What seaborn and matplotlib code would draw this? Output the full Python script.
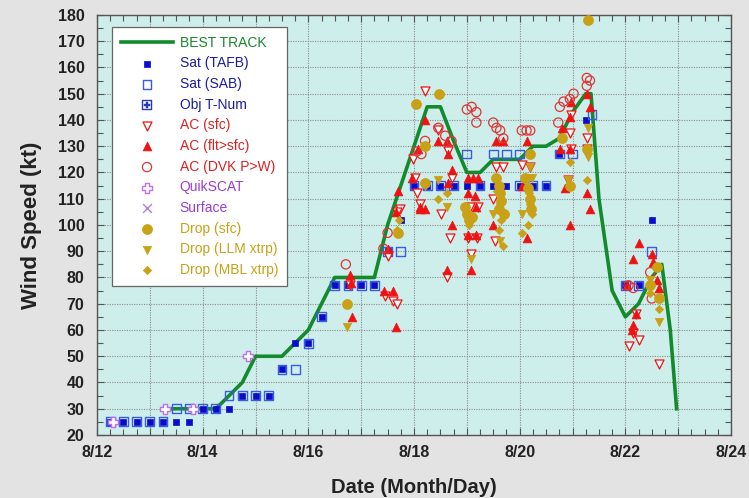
import matplotlib
matplotlib.use("Agg")
import matplotlib.pyplot as plt
from matplotlib.ticker import MultipleLocator, FuncFormatter
import seaborn as sns
import pandas as pd

# Best track intensity (day of August, knots)
bt_day = [13.25, 13.5, 13.75, 14.0, 14.25, 14.5, 14.75, 15.0, 15.25, 15.5, 15.75,
          16.0, 16.25, 16.5, 16.75, 17.0, 17.25, 17.5, 17.75, 18.0, 18.25, 18.5,
          18.75, 19.0, 19.25, 19.5, 19.75, 20.0, 20.25, 20.5, 20.75, 21.0, 21.25,
          21.35, 21.5, 21.75, 22.0, 22.25, 22.5, 22.69, 22.85, 22.97]
bt_kt = [30, 30, 30, 30, 30, 35, 40, 50, 50, 50, 55,
         60, 70, 80, 80, 80, 80, 100, 115, 130, 145, 145,
         132, 120, 120, 125, 125, 125, 130, 130, 133, 143, 150,
         150, 110, 75, 65, 70, 80, 85, 60, 30]

# Satellite Dvorak estimates
tafb_day = [12.25, 12.5, 12.75, 13.0, 13.25, 13.5, 13.75, 14.0, 14.25, 14.5,
            14.75, 15.0, 15.25, 15.5, 15.75, 16.0, 16.25, 16.5, 16.75, 17.0, 17.25,
            17.5, 17.75, 18.0, 18.25, 18.5, 18.75, 19.0, 19.25, 19.5, 19.75, 20.0,
            20.25, 20.5, 20.75, 21.25, 22.0, 22.25, 22.5]
tafb_kt = [25, 25, 25, 25, 25, 25, 25, 30, 30, 30,
           35, 35, 35, 45, 55, 55, 65, 77, 77, 77, 77,
           90, 102, 115, 115, 115, 115, 115, 115, 115, 115, 115,
           115, 115, 127, 140, 77, 77, 102]

sab_day = [12.25, 12.5, 12.75, 13.0, 13.25, 13.5, 13.75, 14.0, 14.25, 14.5,
           14.75, 15.0, 15.25, 15.5, 15.75, 16.0, 16.25, 16.5, 16.75, 17.0, 17.25,
           17.5, 17.75, 18.0, 18.25, 18.5, 18.75, 19.25, 20.0, 20.25, 20.5,
           19.0, 19.5, 19.75, 20.0, 20.75, 21.0, 21.37, 22.0, 22.25, 22.5]
sab_kt = [25, 25, 25, 25, 25, 30, 30, 30, 30, 35,
          35, 35, 35, 45, 45, 55, 65, 77, 77, 77, 77,
          90, 90, 115, 115, 115, 115, 115, 115, 115, 115,
          127, 127, 127, 127, 127, 127, 142, 77, 77, 90]

objt_day = []
objt_kt = []

# Aircraft observations
acsfc_day = [16.79, 17.45, 17.6, 17.67, 17.51, 17.74, 17.67, 17.99, 18.02, 18.05,
             18.11, 18.2, 18.46, 18.52, 18.62, 18.65, 18.69, 18.71, 19.03, 19.06,
             19.08, 19.19, 19.22, 19.5, 19.53, 19.56, 19.69, 20.04, 20.2, 20.92,
             20.95, 20.98, 20.98, 21.27, 21.27, 22.06, 22.15, 22.21, 22.25, 22.63]
acsfc_kt = [77, 73, 71, 70, 88, 106, 105, 125, 118, 112,
            108, 151, 136, 104, 80, 128, 95, 118, 95, 107,
            89, 95, 107, 110, 94, 122, 122, 123, 122, 117,
            135, 142, 129, 133, 129, 54, 59, 66, 56, 47]

acflt_day = [16.78, 16.8, 16.82, 17.43, 17.6, 17.66, 17.51, 17.66, 17.7, 17.96,
             18.08, 18.11, 18.11, 18.2, 18.21, 18.46, 18.62, 18.62, 18.65, 18.65,
             18.71, 18.71, 19.03, 19.12, 19.22, 19.03, 19.15, 19.18, 19.03, 19.18,
             19.07, 19.5, 19.56, 19.69, 20.04, 20.13, 20.13, 20.76, 20.8, 20.86,
             20.95, 20.95, 20.95, 20.98, 21.27, 21.27, 21.33, 21.33, 22.03, 22.13,
             22.15, 22.15, 22.21, 22.25, 22.5, 22.53, 22.6, 22.63]
acflt_kt = [81, 78, 65, 75, 75, 61, 91, 105, 113, 118,
            129, 107, 106, 140, 106, 132, 132, 83, 127, 116,
            121, 100, 118, 118, 118, 112, 111, 107, 96, 96,
            83, 100, 132, 132, 115, 132, 95, 129, 137, 114,
            141, 129, 100, 147, 150, 112, 145, 106, 77, 60,
            62, 87, 66, 93, 89, 86, 79, 76]

dvk_day = [16.71, 17.42, 17.5, 18.05, 18.14, 18.21, 18.46, 18.59, 18.71, 19.0,
           19.09, 19.18, 19.18, 19.5, 19.56, 19.63, 19.69, 20.04, 20.13, 20.2,
           20.73, 20.76, 20.83, 20.95, 21.02, 21.27, 21.27, 21.33, 22.06, 22.15,
           22.47, 22.5]
dvk_kt = [85, 91, 97, 128, 127, 132, 137, 134, 132, 144,
          145, 143, 139, 139, 137, 136, 133, 136, 136, 136,
          139, 145, 147, 148, 150, 156, 153, 155, 77, 76,
          82, 72]

# Scatterometer and surface reports
qs_day = [12.3, 13.29, 13.82, 14.86]
qs_kt = [25, 30, 30, 50]

sfc_day = []
sfc_kt = []

# Dropsonde estimates
dsfc_day = [16.73, 17.7, 18.04, 18.21, 18.21, 18.48, 18.97, 19.0, 19.05, 19.1,
            19.55, 19.6, 19.62, 19.65, 19.6, 19.7, 20.1, 20.15, 20.2, 20.2,
            20.22, 20.8, 20.95, 21.27, 21.3, 22.47, 22.6, 22.63]
dsfc_kt = [70, 97, 146, 130, 116, 150, 107, 104, 102, 103,
           118, 115, 112, 109, 106, 104, 118, 114, 127, 110,
           106, 133, 115, 129, 178, 77, 84, 72]

llm_day = [16.73, 18.21, 18.46, 18.62, 19.08, 19.5, 19.63, 20.04, 20.2, 20.23,
           20.92, 21.3, 21.3, 22.47, 22.63]
llm_kt = [61, 115, 117, 107, 87, 104, 94, 104, 122, 118,
          117, 137, 126, 79, 63]

mbl_day = [17.68, 17.72, 18.46, 18.62, 19.05, 19.58, 19.62, 19.65, 19.6, 19.68,
           20.04, 20.18, 20.2, 20.23, 20.15, 20.95, 21.27, 22.47, 22.63]
mbl_kt = [98, 102, 110, 112, 100, 113, 108, 102, 98, 92,
          97, 112, 108, 104, 100, 124, 117, 74, 68]

plt.rcParams["font.family"] = ["Liberation Sans", "DejaVu Sans"]

fig = plt.figure(figsize=(7.49, 4.98), dpi=100, facecolor="#e3e3e3")
ax = fig.add_axes([0.1295, 0.1265, 0.8465, 0.8435])
ax.set_facecolor("#cdeeea")

green = "#138a2b"
blue = "#0b0bcc"
red = "#ee1212"
gold = "#c9a116"
violet = "#c070e0"

sns.lineplot(x=bt_day, y=bt_kt, color=green, linewidth=2.6, sort=False,
             label="BEST TRACK", ax=ax, zorder=3)

series = [
    (tafb_day, tafb_kt, dict(marker="s", s=18, color=blue, edgecolor=blue, linewidth=0.5), "Sat (TAFB)"),
    (sab_day, sab_kt, dict(marker="s", s=40, color=blue, facecolor="none", edgecolor="#3a5ae8", linewidth=1.0), "Sat (SAB)"),
    (objt_day, objt_kt, dict(marker=r"$\boxplus$", s=55, color="#2a3ab8", linewidth=0.3), "Obj T-Num"),
    (acsfc_day, acsfc_kt, dict(marker="v", s=42, color="white", edgecolor=red, linewidth=0.9), "AC (sfc)"),
    (acflt_day, acflt_kt, dict(marker="^", s=40, color=red, edgecolor=red, linewidth=0.5), "AC (flt>sfc)"),
    (dvk_day, dvk_kt, dict(marker="o", s=44, color=red, facecolor="none", edgecolor="#e03535", linewidth=0.9), "AC (DVK P>W)"),
    (qs_day, qs_kt, dict(marker="P", s=60, color="white", edgecolor=violet, linewidth=1.0), "QuikSCAT"),
    (sfc_day, sfc_kt, dict(marker="x", s=40, color="#b080e0", linewidth=1.0), "Surface"),
    (dsfc_day, dsfc_kt, dict(marker="o", s=52, color=gold, edgecolor=gold, linewidth=0.5), "Drop (sfc)"),
    (llm_day, llm_kt, dict(marker="v", s=36, color=gold, edgecolor=gold, linewidth=0.5), "Drop (LLM xtrp)"),
    (mbl_day, mbl_kt, dict(marker="D", s=18, color=gold, edgecolor=gold, linewidth=0.5), "Drop (MBL xtrp)"),
]

for i, (xd, yd, style, name) in enumerate(series):
    if len(xd):
        df = pd.DataFrame({"day": xd, "kt": yd})
        sns.scatterplot(data=df, x="day", y="kt", label=name, ax=ax, zorder=4 + i,
                        clip_on=False, **style)
    else:
        # series without reports this storm still gets its legend key
        ax.scatter([], [], label=name, zorder=4 + i, **style)

ax.set_xlim(12, 24)
ax.set_ylim(20, 180)
ax.xaxis.set_major_locator(MultipleLocator(1))
ax.xaxis.set_minor_locator(MultipleLocator(0.25))
ax.yaxis.set_major_locator(MultipleLocator(10))
ax.yaxis.set_minor_locator(MultipleLocator(5))
ax.xaxis.set_major_formatter(FuncFormatter(
    lambda v, p: f"8/{int(round(v))}" if int(round(v)) % 2 == 0 else ""))
ax.grid(True, which="major", color="#8c8c8c", linestyle=(0, (1, 1.2)), linewidth=0.8)
ax.set_axisbelow(True)

ax.tick_params(which="both", direction="in", top=True, right=True, color="#555555")
ax.tick_params(which="major", length=5, width=0.8)
ax.tick_params(which="minor", length=4, width=0.8)
ax.tick_params(axis="x", which="major", pad=7)
ax.tick_params(axis="y", which="major", pad=9)
for lab in ax.get_xticklabels() + ax.get_yticklabels():
    lab.set_fontsize(11.5)
    lab.set_fontweight("bold")
    lab.set_color("#222222")
for sp in ax.spines.values():
    sp.set_color("#555555")
    sp.set_linewidth(1.0)

ax.set_xlabel("Date (Month/Day)", fontsize=14.5, fontweight="bold", color="#222222", labelpad=13)
ax.set_ylabel("Wind Speed (kt)", fontsize=16, fontweight="bold", color="#222222", labelpad=11)

handles, labels = ax.get_legend_handles_labels()
order = ["BEST TRACK"] + [s[3] for s in series]
hmap = dict(zip(labels, handles))
leg = ax.legend([hmap[n] for n in order], order,
                loc="upper left", bbox_to_anchor=(0.023, 0.972), fontsize=10,
                frameon=True, fancybox=False, framealpha=1, facecolor="white",
                edgecolor="#666666", handlelength=3.8, handletextpad=0.45,
                labelspacing=0.48, borderpad=0.65, borderaxespad=0)
leg.get_frame().set_linewidth(0.9)
leg.set_zorder(30)
text_colors = [green, "#1c1ca0", "#1c1ca0", "#1c1ca0", "#dd2020", "#dd2020", "#dd2020",
               "#9a3fd0", "#9a3fd0", gold, gold, gold]
for t, c in zip(leg.get_texts(), text_colors):
    t.set_color(c)

fig.savefig("out.png", dpi=100, facecolor=fig.get_facecolor())
